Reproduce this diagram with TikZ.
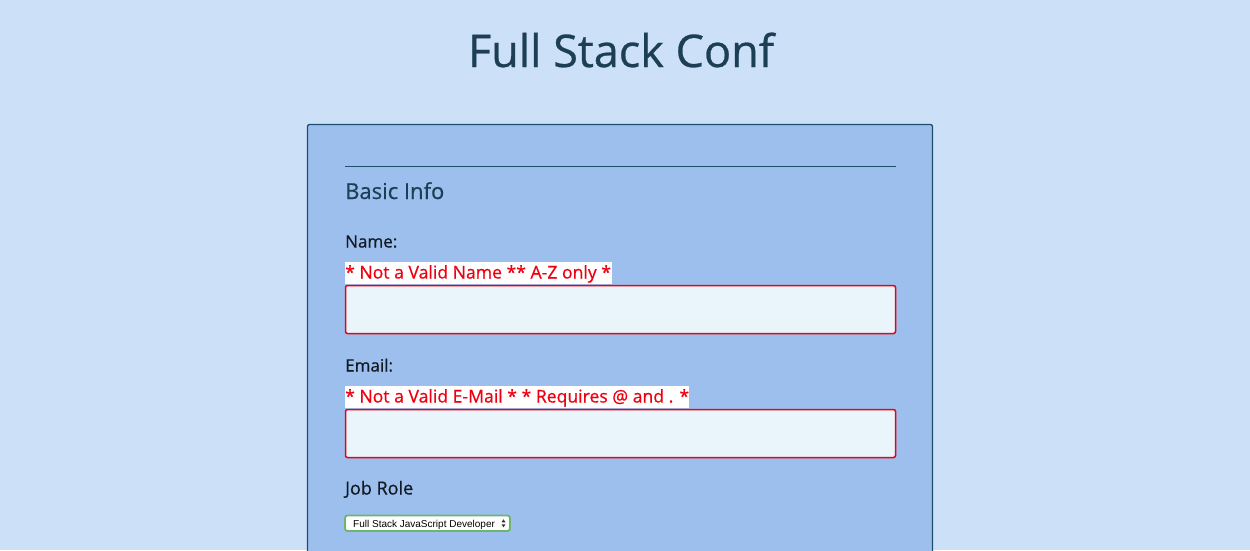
\documentclass[tikz,border=0pt]{standalone}
\usepackage{fontspec}
\setmainfont[FakeBold=0.6]{Open Sans}
\newfontfamily\uifont{Liberation Sans}
\definecolor{bgc}{HTML}{CCE0F8}
\definecolor{panelc}{HTML}{9DBFEE}
\definecolor{panelb}{HTML}{1F4E6E}
\definecolor{titlec}{HTML}{1D3F55}
\definecolor{inputc}{HTML}{EAF4FB}
\definecolor{errc}{HTML}{EE0010}
\definecolor{selb}{HTML}{6DB56D}
\definecolor{labc}{HTML}{111A22}
\tikzset{
  lbl/.style={anchor=base west, inner sep=0pt, text=labc, font=\fontsize{17.5}{20}\selectfont},
  errlbl/.style={anchor=base west, inner sep=0pt, text=errc, font=\fontsize{17.6}{20}\selectfont},
  errbg/.style={fill=white, draw=none},
  inbox/.style={fill=inputc, draw=errc, line width=1.5pt, rounded corners=2pt},
}
\begin{document}
\begin{tikzpicture}[x=1pt,y=-1pt]
\useasboundingbox (0,0) rectangle (1250,550);
\fill[bgc] (0,0) rectangle (1250,550);
% panel
\draw[fill=panelc, draw=panelb, line width=1.3pt, rounded corners=2pt] (307.5,124.5) -- (932.5,124.5) -- (932.5,560) -- (307.5,560) -- cycle;
% title
\node[anchor=base, inner sep=0pt, text=titlec, font=\fontsize{45}{50}\selectfont] (title) at (621,67) {Full Stack Conf};
% rule
\coordinate (rl) at (345,166.5);
\coordinate (rr) at (896,166.5);
\draw[panelb, line width=1.2pt] (rl) -- (rr);
\node[anchor=base west, inner sep=0pt, text=titlec, font=\fontsize{22}{24}\selectfont] (basic) at (345,199) {Basic Info};
% name
\node[lbl, font=\fontsize{17}{20}\selectfont] (namelbl) at (345,247.5) {Name:};
\fill[errbg] (345,262) rectangle (612,284);
\node[errlbl] (nameerr) at (345,278.5) {* Not a Valid Name ** A-Z only *};
\draw[inbox] (345.5,285.5) rectangle (895.5,333.5);
% email
\node[lbl, font=\fontsize{17}{20}\selectfont] (emaillbl) at (345,371.5) {Email:};
\fill[errbg] (345,386) rectangle (689,408);
\node[errlbl] (emailerr) at (345,402.5) {* Not a Valid E-Mail * * Requires @ and . *};
\draw[inbox] (345.5,409.5) rectangle (895.5,457.5);
% job role
\node[lbl, font=\fontsize{18}{20}\selectfont] (joblbl) at (345,494.5) {Job Role};
\draw[fill=white, draw=selb, line width=1.8pt, rounded corners=2.5pt] (345,515.5) rectangle (510,531);
\node[anchor=base west, inner sep=0pt, font=\uifont\fontsize{10}{12}\selectfont] (jobsel) at (353,527) {Full Stack JavaScript Developer};
\fill[black!80] (501.5,522.3) -- (505.5,522.3) -- (503.5,519.3) -- cycle;
\fill[black!80] (501.5,524.3) -- (505.5,524.3) -- (503.5,527.3) -- cycle;
\end{tikzpicture}
\end{document}
